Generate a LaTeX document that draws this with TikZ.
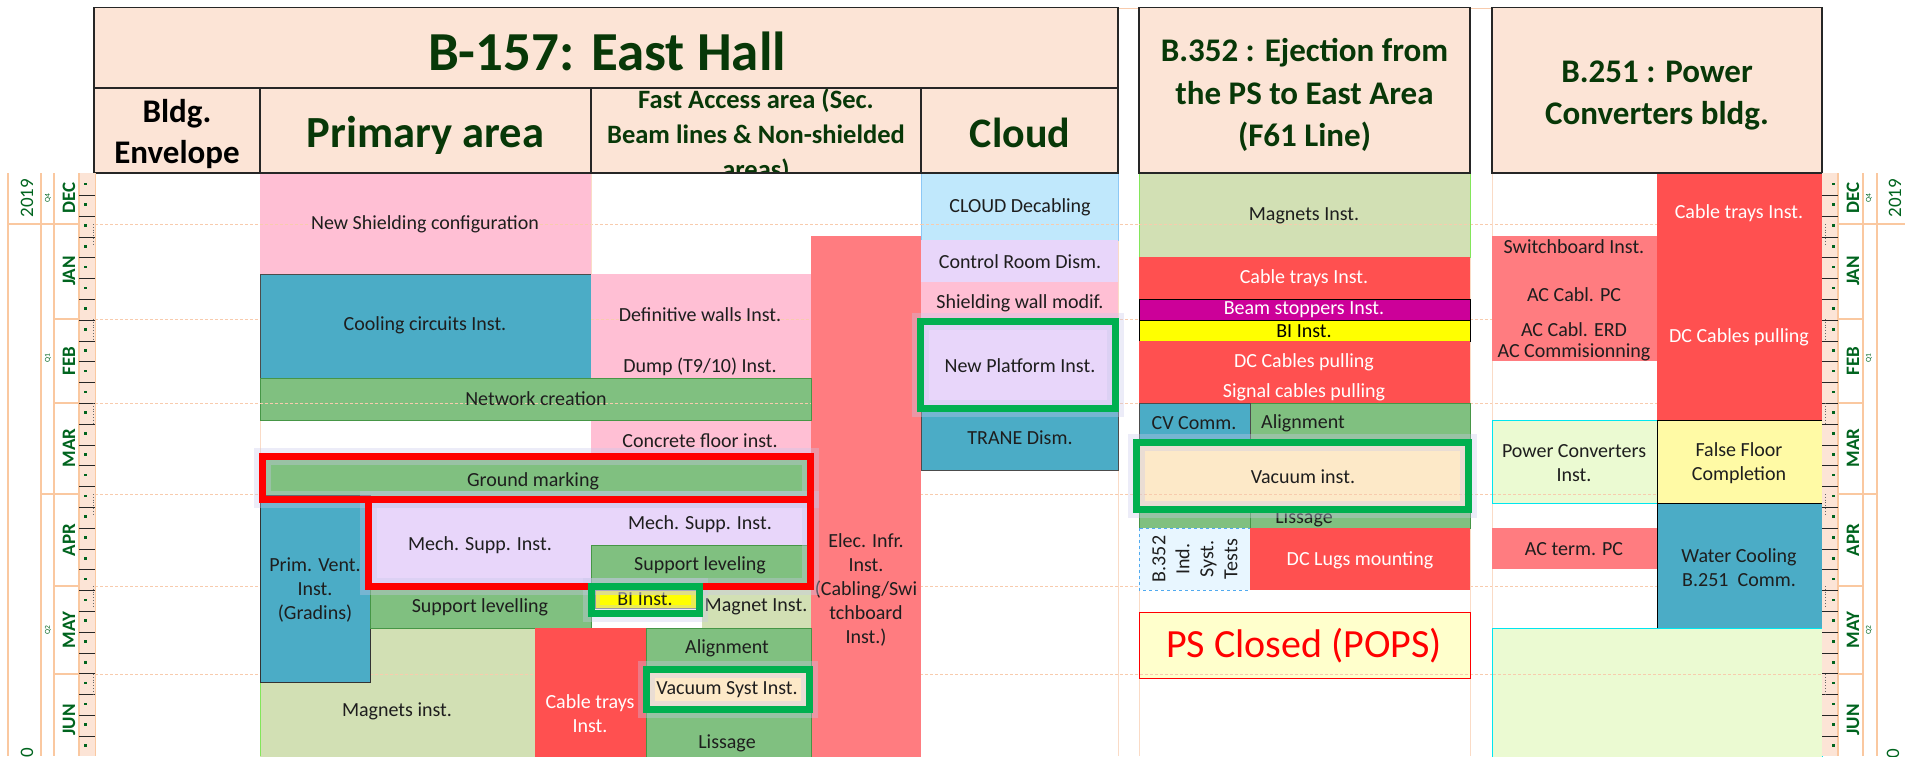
\documentclass[tikz,border=0pt]{standalone}
\usepackage{fontspec}
\setmainfont{Carlito}
\newcommand\fsz[2]{\fontsize{#1}{#2}\selectfont}
\definecolor{cPink}{RGB}{255,191,212}
\definecolor{cTeal}{RGB}{75,172,198}
\definecolor{cGreen}{RGB}{128,192,128}
\definecolor{cGreenB}{RGB}{70,150,70}
\definecolor{cLav}{RGB}{232,214,250}
\definecolor{cOlive}{RGB}{210,224,180}
\definecolor{cRed}{RGB}{255,80,80}
\definecolor{cSalmon}{RGB}{255,124,128}
\definecolor{cLBlue}{RGB}{192,232,252}
\definecolor{cLBlueB}{RGB}{140,200,245}
\definecolor{cWheat}{RGB}{253,233,200}
\definecolor{cMag}{RGB}{204,0,153}
\definecolor{cYel}{RGB}{255,255,0}
\definecolor{cPale}{RGB}{255,255,204}
\definecolor{cFloor}{RGB}{255,250,165}
\definecolor{cLGreen}{RGB}{235,250,210}
\definecolor{cCyan}{RGB}{0,230,240}
\definecolor{cHdr}{RGB}{252,228,214}
\definecolor{cGrid}{RGB}{248,203,173}
\definecolor{cAxis}{RGB}{250,200,160}
\definecolor{cHRed}{RGB}{255,0,0}
\definecolor{cHGreen}{RGB}{0,176,80}
\definecolor{cHdrTxt}{RGB}{8,56,8}
\definecolor{cMonth}{RGB}{0,100,30}
\definecolor{cTxt}{RGB}{30,30,30}
\definecolor{cTestBg}{RGB}{232,246,255}
\definecolor{cTestB}{RGB}{80,170,240}
\definecolor{cBrightG}{RGB}{130,230,90}
\definecolor{cGlow}{RGB}{200,200,235}
\begin{document}
\begin{tikzpicture}[x=1pt,y=-1pt,
  tx/.style={font=\fsz{20}{24}, text=cTxt, align=center, inner sep=0pt},
  wt/.style={tx, text=white},
  hdrbox/.style={fill=cHdr, draw=black!85, line width=1.6pt},
  hb/.style={font=\bfseries\fsz{33}{42.5}, text=cHdrTxt, align=center, inner sep=0pt},
  gridln/.style={draw=cGrid, dash pattern=on 3pt off 2pt, line width=0.9pt},
  colln/.style={draw=cGrid!70, line width=1pt},
  axln/.style={draw=cAxis, line width=1.4pt},
  hlred/.style={draw=cHRed, line width=7pt},
  hlgrn/.style={draw=cHGreen, line width=7pt},
  glow/.style={draw=cGlow, line width=17pt, opacity=0.35},
  mon/.style={rotate=90, font=\bfseries\fsz{19}{20}, text=cMonth, inner sep=0pt},
  qtr/.style={rotate=90, font=\fsz{7.5}{8}, text=cMonth, inner sep=0pt},
  yr/.style={rotate=90, font=\fsz{19}{20}, text=cMonth, inner sep=0pt},
]
\useasboundingbox (0,0) rectangle (1905,756);
\clip (0,0) rectangle (1905,756);

% ---------- background grid ----------
\foreach \yy in {224,319,403,494,586,674} \draw[gridln] (95,\yy) -- (1822,\yy);
\foreach \xx in {260,591,1118,1139,1470,1492} \draw[colln] (\xx,173) -- (\xx,756);
\draw[cGrid, line width=0.8pt] (1118,8) -- (1139,8) (1470,8) -- (1492,8);

% ---------- Primary area ----------
\path[fill=cPink] (260,173) rectangle (591,274);
\draw[gridln] (260,224) -- (591,224);
\node[tx] (nsc) at (425,224) {New Shielding configuration};
\path[fill=cTeal, draw=black!70, line width=0.8pt] (260,274) rectangle (591,378);
\node[tx] (cci) at (425,325) {Cooling circuits Inst.};
\path[fill=cPink] (591,274) rectangle (811,462);
\draw[gridln] (591,319) -- (811,319);
\node[tx] (dwi) at (700,315) {Definitive walls Inst.};
\node[tx] (dmp) at (700,367) {Dump (T9/10) Inst.};
\node[tx] (cfi) at (700,441) {Concrete floor inst.};
\path[fill=cSalmon] (811,236) rectangle (921,760);
\node[tx] (eli) at (866,589.5) {Elec. Infr.\\Inst.\\(Cabling/Swi\\tchboard\\Inst.)};
\path[fill=cGreen, draw=cGreenB, line width=0.8pt] (260,378) rectangle (811,420);
\draw[gridln] (260,403) -- (811,403);
\node[tx] (net) at (536,399) {Network creation};
\path[fill=cGreen] (262,457) rectangle (810,499);
\node[tx] (gm) at (533,481) {Ground marking};
\path[fill=cOlive] (260,628) rectangle (535,760);
\draw[gridln] (260,674) -- (535,674);
\draw[cBrightG, line width=1pt] (260,628) -- (260,756);
\node[tx] (mgp) at (397,711) {Magnets inst.};
\path[fill=cTeal, draw=black!80, line width=0.8pt] (260,495) rectangle (370,682);
\node[tx] (pv) at (315,589.5) {Prim. Vent.\\Inst.\\(Gradins)};
\path[fill=cLav] (370,499) rectangle (591,586);
\node[tx] (msl) at (480,545) {Mech. Supp. Inst.};
\path[fill=cLav] (591,499) rectangle (810,545);
\node[tx] (msr) at (700,524) {Mech. Supp. Inst.};
\path[fill=cGreen, draw=cGreenB, line width=0.8pt] (591,545) rectangle (810,586);
\node[tx] (slr) at (700,565) {Support leveling};
\path[fill=cGreen, draw=cGreenB, line width=0.8pt] (370,588) rectangle (591,628);
\node[tx] (sll) at (480,607) {Support levelling};
\path[fill=cRed] (535,628) rectangle (646,760);
\node[wt] (ctp) at (590,713.5) {Cable trays\\Inst.};
\path[fill=cYel, draw=gray, line width=0.8pt] (595,590) rectangle (697,608);
\node[tx] (bif) at (645,599) {BI Inst.};
\path[fill=cOlive] (702,588) rectangle (811,628);
\node[tx] (mgf) at (756,607) {Magnet Inst.};
\path[fill=cGreen, draw=cGreenB, line width=0.8pt] (646,628) rectangle (811,760);
\node[tx] (alf) at (727,648) {Alignment};
\node[tx] (lsf) at (727,743) {Lissage};
\path[fill=cWheat] (649,672) rectangle (807,707);
\node[tx] (vsi) at (727,690) {Vacuum Syst Inst.};

% ---------- Cloud ----------
\path[fill=cLBlue, draw=cLBlueB, line width=1pt] (921,173) rectangle (1118,240);
\draw[gridln] (921,224) -- (1118,224);
\node[tx] (cdc) at (1020,207) {CLOUD Decabling};
\path[fill=cLav] (921,240) rectangle (1118,282);
\node[tx] (crd) at (1020,262) {Control Room Dism.};
\path[fill=cPink] (921,282) rectangle (1118,325);
\node[tx] (swm) at (1020,303) {Shielding wall modif.};
\path[fill=cLav] (921,322) rectangle (1116,408);
\node[tx] (npi) at (1020,366) {New Platform Inst.};
\path[fill=cTeal, draw=black!70, line width=0.8pt] (921,408) rectangle (1118,470);
\node[tx] (trd) at (1020,438) {TRANE Dism.};

% ---------- B.352 ----------
\path[fill=cOlive, draw=cBrightG, line width=1pt] (1139,173) rectangle (1470,257);
\draw[gridln] (1139,224) -- (1470,224);
\node[tx] (mgb) at (1304,216) {Magnets Inst.};
\path[fill=cRed] (1139,257) rectangle (1470,299);
\node[wt] (ctb) at (1304,278) {Cable trays Inst.};
\path[fill=cMag, draw=black, line width=1pt] (1139,299) rectangle (1470,320);
\node[wt] (bsi) at (1304,309.5) {Beam stoppers Inst.};
\path[fill=cYel, draw=black, line width=1pt] (1139,320) rectangle (1470,341);
\node[tx, text=black] (bib) at (1304,331) {BI Inst.};
\path[fill=cRed] (1139,341) rectangle (1470,403);
\node[wt] (dcb) at (1304,362) {DC Cables pulling};
\node[wt] (scb) at (1304,392) {Signal cables pulling};
\path[fill=cGreen, draw=cGreenB, line width=0.8pt] (1250,403) rectangle (1470,528);
\path[fill=cGreen, draw=cGreenB, line width=0.8pt] (1139,445) rectangle (1250,528);
\path[fill=cTeal, draw=black!70, line width=0.8pt] (1139,403) rectangle (1250,445);
\node[tx] (cvc) at (1194,423) {CV Comm.};
\node[tx] (alb) at (1303,423) {Alignment};
\node[tx] (lsb) at (1304,518) {Lissage};
\path[fill=cWheat] (1139,445) rectangle (1466,507);
\draw[gridln] (1139,494) -- (1466,494);
\node[tx] (vib) at (1303,477) {Vacuum inst.};
\path[fill=cTestBg, draw=cTestB, dashed, line width=0.8pt] (1139,528) rectangle (1250,590);
\node[tx, rotate=90] (ist) at (1195,559) {B.352\\Ind.\\Syst.\\Tests};
\path[fill=cRed] (1250,528) rectangle (1470,590);
\node[wt] (dcl) at (1360,560) {DC Lugs mounting};
\path[fill=cPale, draw=cHRed, line width=1pt] (1139,612) rectangle (1470,678);
\draw[gridln] (1140,674) -- (1469,674);
\node[font=\fsz{40}{44}, text=cHRed, inner sep=0pt] (psc) at (1304,646) {PS Closed (POPS)};

% ---------- B.251 ----------
\path[fill=cRed] (1657,173) rectangle (1822,420);
\node[wt] (ctc) at (1739,213) {Cable trays Inst.};
\node[wt] (dcc) at (1739,337) {DC Cables pulling};
\path[fill=cSalmon] (1492,236) rectangle (1657,361);
\node[tx] (swb) at (1574,247) {Switchboard Inst.};
\node[tx] (acp) at (1574,295) {AC Cabl. PC};
\node[tx, font=\fsz{20}{21}] (ace) at (1574,342) {AC Cabl. ERD\\AC Commisionning};
\path[fill=cLGreen, draw=cCyan, line width=1pt] (1492,420) rectangle (1657,503);
\draw[gridln] (1493,494) -- (1656,494);
\node[tx] (pci) at (1574,463.5) {Power Converters\\Inst.};
\path[fill=cFloor, draw=black, line width=0.8pt] (1657,420) rectangle (1822,503);
\node[tx] (ffc) at (1739,463.5) {False Floor\\Completion};
\path[fill=cSalmon] (1492,528) rectangle (1657,569);
\node[tx] (act) at (1574,549) {AC term. PC};
\path[fill=cTeal, draw=black, line width=0.8pt] (1657,503) rectangle (1822,628);
\node[tx] (wcb) at (1739,567.5) {Water Cooling\\B.251\ \ Comm.};
\path[fill=cLGreen, draw=cCyan, line width=1pt] (1492,628) rectangle (1822,760);
\draw[gridln] (1493,674) -- (1821,674);

% ---------- highlights ----------
\foreach \ra/\rb in {{262.5,456.5}/{810,499.5},{368.5,499.5}/{810,586.5},{591.5,586.5}/{699.5,613.5},{646.5,669.5}/{809.5,709.5},{920.5,321.5}/{1115.5,408.5},{1136.5,442.5}/{1468.5,509.5}}
  \draw[glow] (\ra) rectangle (\rb);
\draw[hlred] (262.5,456.5) rectangle (810,499.5);
\draw[hlred] (368.5,499.5) rectangle (810,586.5);
\draw[hlgrn] (591.5,586.5) rectangle (699.5,613.5);
\draw[hlgrn] (646.5,669.5) rectangle (809.5,709.5);
\draw[hlgrn] (920.5,321.5) rectangle (1115.5,408.5);
\draw[hlgrn] (1136.5,442.5) rectangle (1468.5,509.5);

% ---------- headers ----------
\path[hdrbox] (94,7.5) rectangle (1118,88);
\node[font=\bfseries\fsz{55}{58}, text=cHdrTxt, anchor=base, inner sep=0pt] (t157) at (607,70) {B-157: East Hall};
\path[hdrbox] (94,88) rectangle (260,173);
\node[hb, text=black, font=\bfseries\fsz{33}{41}] (bld) at (177,134) {Bldg.\\Envelope};
\path[hdrbox] (260,88) rectangle (591,173);
\node[hb, font=\bfseries\fsz{44.5}{46}, anchor=base] (pri) at (425.5,147) {Primary area};
\path[fill=cHdr] (591,88) rectangle (921,173);
\begin{scope}
\clip (591,88) rectangle (921,173);
\node[hb, font=\bfseries\fsz{26.5}{35}] (fas) at (756,136) {Fast Access area (Sec.\\Beam lines \& Non-shielded\\areas)};
\end{scope}
\draw[black!85, line width=1.6pt] (591,88) rectangle (921,173);
\path[hdrbox] (921,88) rectangle (1118,173);
\node[hb, font=\bfseries\fsz{42}{44}, anchor=base] (cld) at (1020,147) {Cloud};
\path[hdrbox] (1139,7.5) rectangle (1470,173);
\node[hb] (h352) at (1304.5,95) {B.352 : Ejection from\\the PS to East Area\\(F61 Line)};
\path[hdrbox] (1492,7.5) rectangle (1822,173);
\node[hb, font=\bfseries\fsz{33}{41.5}] (h251) at (1657,95.5) {B.251 : Power\\Converters bldg.};

% ---------- left time axis ----------
\fill[cHdr] (79,173) rectangle (95,756);
\foreach \xx in {8,41,54,79} \draw[axln] (\xx,173) -- (\xx,756);
\draw[axln, line width=0.8pt] (95,173) -- (95,756);
\draw[axln] (8,224) -- (79,224);
\foreach \yy in {319,403,586,674} \draw[axln] (54,\yy) -- (79,\yy);
\draw[axln] (41,494) -- (79,494);
\foreach \k in {1,...,27} \draw[black!85, line width=0.8pt] (79,{174.5+20.8*\k}) -- (95,{174.5+20.8*\k});
\foreach \k in {0,...,27} \fill[cMonth] (84,{182.5+20.8*\k}) rectangle ++(2.6,2.6);
\foreach \yy in {224,319,403,494,586,674} \draw[black!60, dotted, line width=0.8pt] (93,\yy) -- (93,{\yy+22});
% ---------- right time axis ----------
\fill[cHdr] (1822,173) rectangle (1838,756);
\foreach \xx in {1838,1863,1877} \draw[axln] (\xx,173) -- (\xx,756);
\draw[axln] (1838,224) -- (1905,224);
\foreach \yy in {319,403,586,674} \draw[axln] (1838,\yy) -- (1863,\yy);
\draw[axln] (1838,494) -- (1877,494);
\foreach \k in {1,...,27} \draw[black!85, line width=0.8pt] (1822,{174.5+20.8*\k}) -- (1838,{174.5+20.8*\k});
\foreach \k in {0,...,27} \fill[cMonth] (1832,{182.5+20.8*\k}) rectangle ++(2.6,2.6);
\foreach \yy in {224,319,403,494,586,674} \draw[black!60, dotted, line width=0.8pt] (1825,\yy) -- (1825,{\yy+22});

% ---------- axis labels ----------
\foreach \mm/\yy in {DEC/198,JAN/271,FEB/361,MAR/448,APR/540,MAY/630,JUN/720} {
  \node[mon] (ml\mm) at (69,\yy) {\mm};
  \node[mon] (mr\mm) at (1853,\yy) {\mm};
}
\foreach \qq/\yy in {Q4/198,Q1/358,Q2/630} {
  \node[qtr] (ql\qq) at (48,\yy) {\qq};
  \node[qtr] (qr\qq) at (1869,\yy) {\qq};
}
\node[yr] (yl19) at (27,198) {2019};
\node[yr] (yr19) at (1895,198) {2019};
\node[yr, anchor=east] (yl20) at (27,748) {2020};
\node[yr, anchor=east] (yr20) at (1893,749) {2020};
\end{tikzpicture}
\end{document}
